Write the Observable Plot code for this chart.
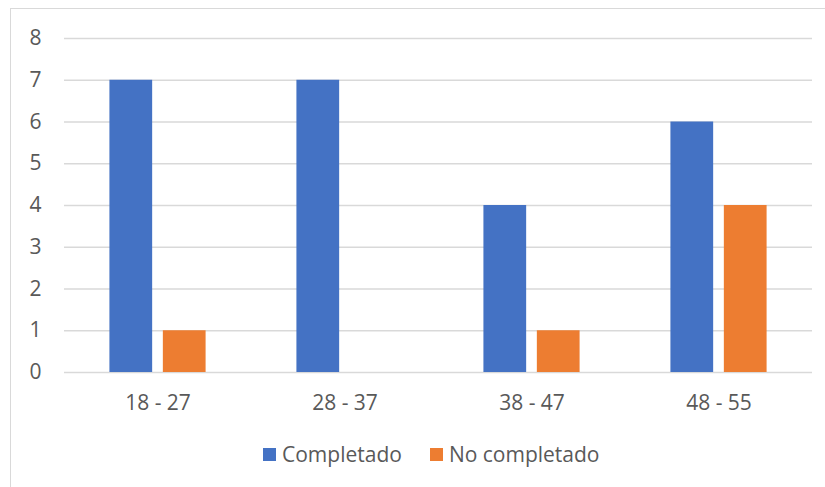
<!DOCTYPE html>
<html>
<head>
<meta charset="utf-8">
<script src="https://cdn.jsdelivr.net/npm/d3@7"></script>
<script src="https://cdn.jsdelivr.net/npm/@observablehq/plot@0.6"></script>
<style>
  html, body { margin: 0; padding: 0; background: #fff; width: 825px; height: 487px; overflow: hidden; position: relative; }
  #frame { position: absolute; left: 10px; top: 8px; width: 900px; height: 600px; border: 1.5px solid #d9d9d9; box-sizing: border-box; }
  #chart { position: absolute; left: 0; top: 0; }
  #legend { position: absolute; left: 263px; top: 440px; display: flex; align-items: center; font-family: "Open Sans", sans-serif; font-size: 21px; color: #595959; white-space: nowrap; }
  .item { display: flex; align-items: center; }
  .sw { width: 13px; height: 13px; margin-right: 6px; }
</style>
</head>
<body>
<div id="frame"></div>
<div id="chart"></div>
<div id="legend"></div>
<script>
const categories = ["18 - 27", "28 - 37", "38 - 47", "48 - 55"];
const seriesNames = ["Completado", "No completado"];
const completado = [7, 7, 4, 6];
const noCompletado = [1, 0, 1, 4];
const yTicks = [0, 1, 2, 3, 4, 5, 6, 7, 8];
const colors = ["#4472C4", "#ED7D31"];

const rows = [];
categories.forEach((c, i) => {
  rows.push({age: c, status: seriesNames[0], value: completado[i]});
  rows.push({age: c, status: seriesNames[1], value: noCompletado[i]});
});

const chart = Plot.plot({
  width: 825,
  height: 420,
  marginLeft: 63,
  marginRight: 13,
  marginTop: 38,
  marginBottom: 48,
  style: {fontFamily: "'Open Sans', sans-serif", fontSize: "21px", color: "#595959", background: "transparent"},
  fx: {domain: categories, padding: 0, label: null, tickSize: 0, tickPadding: 23},
  x: {domain: seriesNames, axis: null, paddingInner: 0.2, paddingOuter: 0.85, round: false},
  y: {domain: [0, 8], ticks: yTicks, tickSize: 0, tickPadding: 23, label: null, tickFormat: d => String(d)},
  color: {domain: seriesNames, range: colors},
  marks: [
    Plot.gridY(yTicks, {stroke: "#d9d9d9", strokeOpacity: 1, strokeWidth: 1.5}),
    Plot.barY(rows, {fx: "age", x: "status", y: "value", fill: "status"})
  ]
});
document.getElementById("chart").appendChild(chart);

const legend = document.getElementById("legend");
seriesNames.forEach((s, i) => {
  const item = document.createElement("div");
  item.className = "item";
  if (i > 0) item.style.marginLeft = "28px";
  const sw = document.createElement("div");
  sw.className = "sw";
  sw.style.background = colors[i];
  const t = document.createElement("span");
  t.textContent = s;
  item.appendChild(sw);
  item.appendChild(t);
  legend.appendChild(item);
});
</script>
</body>
</html>
